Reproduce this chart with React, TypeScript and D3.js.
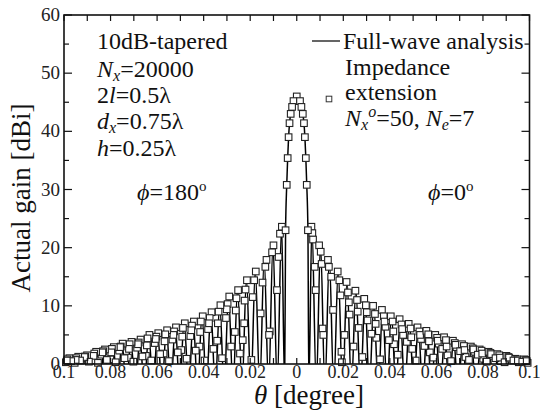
import React from "react";
import * as d3 from "d3";

// ---------- data ----------
const xTickValues = [-0.1, -0.08, -0.06, -0.04, -0.02, 0, 0.02, 0.04, 0.06, 0.08, 0.1];
const xTickLabels = ["0.1", "0.08", "0.06", "0.04", "0.02", "0", "0.02", "0.04", "0.06", "0.08", "0.1"];
const yTickValues = [0, 10, 20, 30, 40, 50, 60];

// main beam of the full-wave curve [theta (deg), gain (dBi)]
const mainLobe: [number, number][] = [
  [-0.0052, -4], [-0.0048, 23], [-0.0043, 30.8], [-0.0039, 35.4], [-0.0035, 39], [-0.0031, 41.4],
  [-0.0026, 43], [-0.002, 44.2], [-0.0014, 45.2], [0, 46], [0.0014, 45.2], [0.002, 44.2],
  [0.0026, 43], [0.0031, 41.4], [0.0035, 39], [0.0039, 35.4], [0.0043, 30.8], [0.0048, 23], [0.0052, -4],
];

// side lobes, phi = 0 side
const rightPeakTheta = [0.0065, 0.0102, 0.014, 0.0178, 0.0216, 0.0254, 0.0293, 0.0331, 0.0369, 0.0407, 0.0445, 0.0484, 0.0522, 0.056, 0.0598, 0.0636, 0.0674, 0.0713, 0.0751, 0.0789, 0.0827, 0.0865, 0.0904, 0.0942, 0.098];
const rightPeakGain = [23.8, 20.6, 18.1, 16.1, 14.3, 12.8, 11.4, 10.2, 9.5, 8.4, 7.9, 7.1, 6.5, 5.9, 5.2, 4.8, 4.2, 3.6, 3.2, 2.7, 2.3, 1.9, 1.6, 1.1, 1.0];
const rightNullTheta = [0.0084, 0.0121, 0.0159, 0.0197, 0.0235, 0.0274, 0.0312, 0.035, 0.0388, 0.0426, 0.0464, 0.0503, 0.0541, 0.0579, 0.0617, 0.0655, 0.0693, 0.0732, 0.077, 0.0808, 0.0846, 0.0884, 0.0923, 0.0961, 0.0999];

// side lobes, phi = 180 side
const leftPeakTheta = [-0.0065, -0.0102, -0.014, -0.0178, -0.0216, -0.0254, -0.0293, -0.0331, -0.0369, -0.0407, -0.0445, -0.0484, -0.0522, -0.056, -0.0598, -0.0636, -0.0674, -0.0713, -0.0751, -0.0789, -0.0827, -0.0865, -0.0904, -0.0942, -0.098];
const leftPeakGain = [23.8, 20.6, 18.1, 16.1, 14.6, 12.9, 11.8, 10.3, 9.1, 8.4, 7.5, 7.2, 6.5, 6.0, 5.5, 5.2, 4.4, 4.0, 3.7, 3.1, 2.7, 2.3, 1.7, 1.4, 1.2];
const leftNullTheta = [-0.0084, -0.0121, -0.0159, -0.0197, -0.0235, -0.0274, -0.0312, -0.035, -0.0388, -0.0426, -0.0464, -0.0503, -0.0541, -0.0579, -0.0617, -0.0655, -0.0693, -0.0732, -0.077, -0.0808, -0.0846, -0.0884, -0.0923, -0.0961, -0.0999];

const NULL_DEPTH = -4;

// impedance-extension samples [theta, gain]
const mainMarkers: [number, number][] = [
  [0, 46], [-0.0014, 45.2], [0.0014, 45.2], [-0.002, 44.2], [0.002, 44.2], [-0.0026, 43], [0.0026, 43],
  [-0.0031, 41.4], [0.0031, 41.4], [-0.0035, 39], [0.0035, 39], [-0.0039, 35.4], [0.0039, 35.4],
  [-0.0043, 30.8], [0.0043, 30.8], [-0.0048, 23], [0.0048, 23],
];
const rightMarkers: [number, number][] = [
  [0.0063, 23.6], [0.0067, 22.5], [0.007, 21.4], [0.0077, 16.7], [0.0081, 12.7],
  [0.0096, 20.4], [0.0103, 19.3], [0.0107, 17.2], [0.0111, 6.1], [0.0114, 5.0],
  [0.0134, 17.9], [0.0138, 16.7], [0.0148, 15.0], [0.0156, 9.3],
  [0.0176, 15.9], [0.0183, 14.4], [0.0188, 11.8], [0.0192, 2.1], [0.0194, 0.3],
  [0.0214, 14.1], [0.022, 12.3], [0.0227, 8.5], [0.0205, 5.0], [0.0224, 10.6],
  [0.0252, 12.6], [0.0259, 11.0], [0.0266, 6.2], [0.0244, 3.0], [0.0262, 9.0],
  [0.029, 11.2], [0.0297, 10.1], [0.0304, 7.5], [0.0282, 1.2], [0.0301, 8.9],
  [0.0328, 10.0], [0.0336, 8.6], [0.0342, 4.5], [0.0321, 5.2], [0.0339, 6.9],
  [0.0366, 9.3], [0.0374, 8.2], [0.0381, 6.4], [0.0358, 0.8], [0.0377, 7.3],
  [0.0404, 8.2], [0.0412, 7.3], [0.0418, 3.4], [0.0396, 4.1], [0.0415, 5.6],
  [0.0442, 7.7], [0.045, 6.8], [0.0457, 5.0], [0.0434, 1.6], [0.0453, 6.0],
  [0.0481, 6.9], [0.0489, 6.1], [0.0496, 2.6], [0.0473, 3.8], [0.0492, 4.6],
  [0.0519, 6.3], [0.0527, 5.6], [0.0534, 4.3], [0.0511, 0.6], [0.053, 5.0],
  [0.0557, 5.7], [0.0565, 5.1], [0.0572, 2.0], [0.0549, 3.1], [0.0568, 3.9],
  [0.0595, 5.0], [0.0603, 4.5], [0.061, 3.5], [0.0587, 1.1], [0.0606, 4.0],
  [0.0633, 4.6], [0.0641, 4.1], [0.0648, 1.5], [0.0625, 2.6], [0.0644, 3.0],
  [0.0671, 4.0], [0.0679, 3.6], [0.0686, 2.9], [0.0663, 0.5], [0.0682, 3.3],
  [0.071, 3.4], [0.0718, 3.1], [0.0725, 1.2], [0.0702, 2.2], [0.0721, 2.4],
  [0.0748, 3.0], [0.0756, 2.7], [0.0763, 2.1], [0.074, 0.7], [0.0759, 2.5],
  [0.0786, 2.5], [0.0794, 2.3], [0.0801, 0.9], [0.0778, 1.6], [0.0797, 1.8],
  [0.0824, 2.1], [0.0832, 1.9], [0.0839, 1.4], [0.0816, 0.4], [0.0835, 1.7],
  [0.0862, 1.7], [0.087, 1.5], [0.0877, 0.5], [0.0854, 1.0], [0.0873, 1.1],
  [0.0901, 1.4], [0.0909, 1.2], [0.0916, 0.9], [0.0893, 0.3], [0.0912, 1.1],
  [0.0939, 0.9], [0.0947, 0.8], [0.0954, 0.3], [0.0931, 0.6], [0.095, 0.6],
  [0.0977, 0.8], [0.0985, 0.7], [0.0992, 0.2], [0.0969, 0.4], [0.0988, 0.5],
];
const leftMarkers: [number, number][] = [
  [-0.0064, 23.6], [-0.0072, 22.4], [-0.0078, 18.4], [-0.0085, 12.7],
  [-0.01, 20.4], [-0.0106, 19.2], [-0.0116, 5.6], [-0.0119, 5.0],
  [-0.013, 17.9], [-0.0135, 16.7], [-0.0147, 14.0], [-0.0155, 8.7],
  [-0.0176, 15.9], [-0.0183, 14.4], [-0.0189, 11.5], [-0.0195, 0.7],
  [-0.0214, 14.4], [-0.022, 12.8], [-0.0226, 7.0], [-0.0232, 4.1], [-0.0224, 10.9],
  [-0.0252, 12.7], [-0.0259, 11.3], [-0.0266, 5.5], [-0.0244, 1.8], [-0.0262, 9.2],
  [-0.029, 11.6], [-0.0297, 10.3], [-0.0304, 7.9], [-0.0282, 3.0], [-0.0301, 9.4],
  [-0.0328, 10.1], [-0.0336, 9.0], [-0.0342, 4.0], [-0.0321, 1.0], [-0.0339, 7.0],
  [-0.0366, 8.9], [-0.0374, 7.9], [-0.0381, 6.0], [-0.0358, 2.6], [-0.0377, 7.0],
  [-0.0404, 8.2], [-0.0412, 7.3], [-0.0418, 3.0], [-0.0396, 0.6], [-0.0415, 5.5],
  [-0.0442, 7.3], [-0.045, 6.6], [-0.0457, 4.8], [-0.0434, 2.3], [-0.0453, 5.8],
  [-0.0481, 7.0], [-0.0489, 6.2], [-0.0496, 2.4], [-0.0473, 0.9], [-0.0492, 4.7],
  [-0.0519, 6.3], [-0.0527, 5.6], [-0.0534, 4.2], [-0.0511, 2.0], [-0.053, 5.0],
  [-0.0557, 5.8], [-0.0565, 5.1], [-0.0572, 1.8], [-0.0549, 0.5], [-0.0568, 3.9],
  [-0.0595, 5.3], [-0.0603, 4.7], [-0.061, 3.6], [-0.0587, 1.7], [-0.0606, 4.3],
  [-0.0633, 5.0], [-0.0641, 4.4], [-0.0648, 1.4], [-0.0625, 0.6], [-0.0644, 3.2],
  [-0.0671, 4.2], [-0.0679, 3.7], [-0.0686, 2.8], [-0.0663, 1.3], [-0.0682, 3.4],
  [-0.071, 3.8], [-0.0718, 3.4], [-0.0725, 1.1], [-0.0702, 0.4], [-0.0721, 2.6],
  [-0.0748, 3.5], [-0.0756, 3.0], [-0.0763, 2.3], [-0.074, 1.0], [-0.0759, 2.9],
  [-0.0786, 2.9], [-0.0794, 2.6], [-0.0801, 0.8], [-0.0778, 0.3], [-0.0797, 2.0],
  [-0.0824, 2.5], [-0.0832, 2.2], [-0.0839, 1.6], [-0.0816, 0.7], [-0.0835, 2.0],
  [-0.0862, 2.1], [-0.087, 1.8], [-0.0877, 0.6], [-0.0854, 0.2], [-0.0873, 1.4],
  [-0.0901, 1.5], [-0.0909, 1.3], [-0.0916, 1.0], [-0.0893, 0.4], [-0.0912, 1.2],
  [-0.0939, 1.25], [-0.0947, 1.0], [-0.0954, 0.2], [-0.0931, 0.6], [-0.095, 0.7],
  [-0.0977, 1.0], [-0.0985, 0.8], [-0.0992, 0.3], [-0.0969, 0.5], [-0.0988, 0.6],
];

// ---------- chart ----------
const FONT = '"Liberation Serif", "DejaVu Serif", serif';

export default function App() {
  const W = 540;
  const H = 414;
  const L = 64, R = 529.5, T = 15, B = 364;
  const x = d3.scaleLinear().domain([-0.1, 0.1]).range([L, R]);
  const y = d3.scaleLinear().domain([0, 60]).range([B, T]);

  const pts: [number, number][] = [
    ...mainLobe,
    ...rightPeakTheta.map((t, i) => [t, rightPeakGain[i]] as [number, number]),
    ...rightNullTheta.map((t) => [t, NULL_DEPTH] as [number, number]),
    ...leftPeakTheta.map((t, i) => [t, leftPeakGain[i]] as [number, number]),
    ...leftNullTheta.map((t) => [t, NULL_DEPTH] as [number, number]),
  ].sort((a, b) => a[0] - b[0]);

  const lineGen = d3
    .line<[number, number]>()
    .x((d) => x(d[0]))
    .y((d) => y(d[1]))
    .curve(d3.curveMonotoneX);

  const markers = [...leftMarkers, ...rightMarkers, ...mainMarkers];
  const ms = 6.6;

  const xMinor = x.ticks(20);
  const yMinor = d3.range(0, 61, 5);
  const txt = { fontFamily: FONT } as React.CSSProperties;

  return (
    <svg
      width={W}
      height={H}
      style={{ position: "absolute", left: 0, top: 0, background: "#fff", fontFamily: FONT }}
    >
      <defs>
        <clipPath id="plotClip">
          <rect x={L} y={T} width={R - L} height={B - T} />
        </clipPath>
      </defs>
      <rect x={0} y={0} width={W} height={H} fill="#fff" />

      {/* data line */}
      <path
        d={lineGen(pts) || ""}
        fill="none"
        stroke="#000"
        strokeWidth={1.5}
        clipPath="url(#plotClip)"
      />

      {/* markers */}
      {markers.map((d, i) => (
        <rect
          key={i}
          x={x(d[0]) - ms / 2}
          y={y(d[1]) - ms / 2}
          width={ms}
          height={ms}
          fill="#fff"
          stroke="#222"
          strokeWidth={1.1}
        />
      ))}

      {/* ticks */}
      {xMinor.map((v, i) => (
        <g key={"xt" + i}>
          <line x1={x(v)} x2={x(v)} y1={T} y2={T + 6} stroke="#111" strokeWidth={1.2} />
          <line x1={x(v)} x2={x(v)} y1={B} y2={B - 6} stroke="#111" strokeWidth={1.2} />
        </g>
      ))}
      {yMinor.map((v, i) => {
        const len = v % 10 === 0 ? 8 : 5;
        return (
          <g key={"yt" + i}>
            <line x1={L} x2={L + len} y1={y(v)} y2={y(v)} stroke="#111" strokeWidth={1.2} />
            <line x1={R} x2={R - len} y1={y(v)} y2={y(v)} stroke="#111" strokeWidth={1.2} />
          </g>
        );
      })}

      {/* frame */}
      <rect x={L} y={T} width={R - L} height={B - T} fill="none" stroke="#111" strokeWidth={1.6} />

      {/* tick labels */}
      {xTickValues.map((v, i) => (
        <text key={"xl" + i} style={txt} x={x(v)} y={378} fontSize={18} textAnchor="middle" fill="#222">
          {xTickLabels[i]}
        </text>
      ))}
      {yTickValues.map((v, i) => (
        <text key={"yl" + i} style={txt} x={60} y={y(v) + 6} fontSize={19} textAnchor="end" fill="#222">
          {v}
        </text>
      ))}

      {/* axis titles */}
      <text style={txt} x={309} y={404} fontSize={27} textAnchor="middle" fill="#111">
        <tspan fontStyle="italic">θ</tspan>
        <tspan> [degree]</tspan>
      </text>
      <text
        style={txt}
        transform={`translate(30,198) rotate(-90)`}
        fontSize={27}
        textAnchor="middle"
        fill="#111"
      >
        Actual gain [dBi]
      </text>

      {/* annotation block */}
      <g fontSize={24} fill="#111" style={txt}>
        <text x={97} y={49}>10dB-tapered</text>
        <text x={97} y={77}>
          <tspan fontStyle="italic">N</tspan>
          <tspan fontStyle="italic" fontSize={16} dy={4}>x</tspan>
          <tspan dy={-4}>=20000</tspan>
        </text>
        <text x={97} y={103}>
          2<tspan fontStyle="italic">l</tspan>=0.5λ
        </text>
        <text x={97} y={129}>
          <tspan fontStyle="italic">d</tspan>
          <tspan fontStyle="italic" fontSize={16} dy={4}>x</tspan>
          <tspan dy={-4}>=0.75λ</tspan>
        </text>
        <text x={97} y={156}>
          <tspan fontStyle="italic">h</tspan>=0.25λ
        </text>
        <text x={137} y={200}>
          <tspan fontStyle="italic">ϕ</tspan>
          <tspan>=180</tspan>
          <tspan fontSize={15} dy={-9}>o</tspan>
        </text>
        <text x={428} y={200}>
          <tspan fontStyle="italic">ϕ</tspan>
          <tspan>=0</tspan>
          <tspan fontSize={15} dy={-9}>o</tspan>
        </text>
      </g>

      {/* legend */}
      <g fontSize={24} fill="#111" style={txt}>
        <line x1={312} x2={340} y1={41} y2={41} stroke="#111" strokeWidth={1.3} />
        <text x={343} y={49}>Full-wave analysis</text>
        <text x={345} y={75}>Impedance</text>
        <rect x={329 - 2.8} y={99 - 2.8} width={5.6} height={5.6} fill="#fff" stroke="#333" strokeWidth={1} />
        <text x={345} y={100}>extension</text>
        <text x={345} y={126}>
          <tspan fontStyle="italic">N</tspan>
          <tspan fontStyle="italic" fontSize={16} dy={4}>x</tspan>
          <tspan fontStyle="italic" fontSize={16} dy={-13}>o</tspan>
          <tspan dy={9}>=50, </tspan>
          <tspan fontStyle="italic">N</tspan>
          <tspan fontStyle="italic" fontSize={16} dy={4}>e</tspan>
          <tspan dy={-4}>=7</tspan>
        </text>
      </g>
    </svg>
  );
}
